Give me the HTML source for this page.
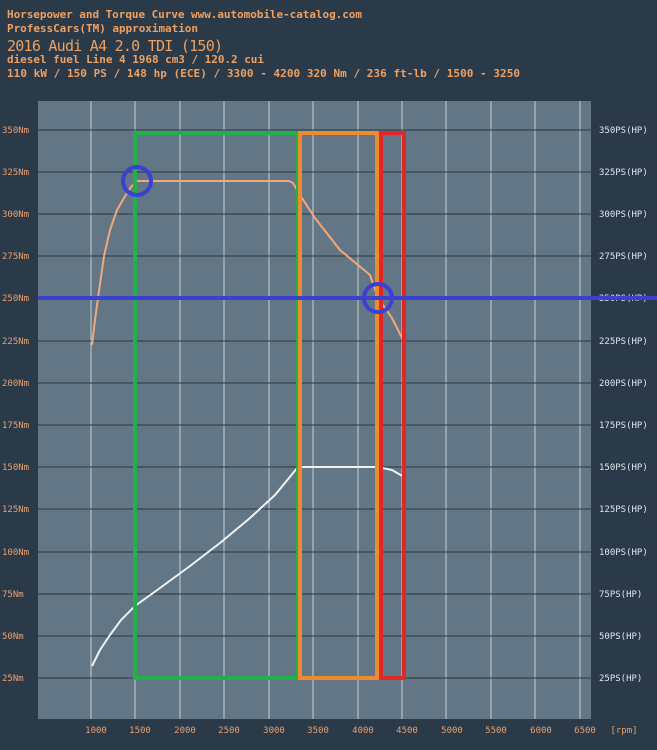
<!DOCTYPE html>
<html><head><meta charset="utf-8"><style>
body{margin:0;background:#2b3a49;width:657px;height:750px;overflow:hidden}
svg{display:block}
text{font-family:"DejaVu Sans Mono","Liberation Mono",monospace}
</style></head><body>
<svg width="657" height="750" viewBox="0 0 657 750">
<rect width="657" height="750" fill="#2b3a49"/>
<g fill="#f0a060" font-size="11" font-weight="bold">
<text x="7" y="18" textLength="355">Horsepower and Torque Curve www.automobile-catalog.com</text>
<text x="7" y="32" textLength="191">ProfessCars(TM) approximation</text>
<text x="7" y="77" textLength="513">110 kW / 150 PS / 148 hp  (ECE) / 3300 - 4200 320 Nm / 236 ft-lb / 1500 - 3250</text>
<text x="7" y="63" textLength="257">diesel fuel Line 4 1968 cm3 / 120.2 cui</text>
</g>
<text x="7" y="51" fill="#f0a060" font-size="15" textLength="216">2016 Audi A4 2.0 TDI (150)</text>
<rect x="38" y="101" width="553" height="618" fill="#627686"/>
<g stroke="#dfe6ec" stroke-width="1" opacity="0.8">
<line x1="91" y1="101" x2="91" y2="719"/><line x1="135" y1="101" x2="135" y2="719"/><line x1="180" y1="101" x2="180" y2="719"/><line x1="224" y1="101" x2="224" y2="719"/><line x1="269" y1="101" x2="269" y2="719"/><line x1="313" y1="101" x2="313" y2="719"/><line x1="358" y1="101" x2="358" y2="719"/><line x1="402" y1="101" x2="402" y2="719"/><line x1="446" y1="101" x2="446" y2="719"/><line x1="491" y1="101" x2="491" y2="719"/><line x1="535" y1="101" x2="535" y2="719"/><line x1="580" y1="101" x2="580" y2="719"/>
</g>
<g stroke="#2a3640" stroke-width="1">
<line x1="38" x2="591" y1="130" y2="130"/><line x1="38" x2="591" y1="172" y2="172"/><line x1="38" x2="591" y1="214" y2="214"/><line x1="38" x2="591" y1="256" y2="256"/><line x1="38" x2="591" y1="298" y2="298"/><line x1="38" x2="591" y1="341" y2="341"/><line x1="38" x2="591" y1="383" y2="383"/><line x1="38" x2="591" y1="425" y2="425"/><line x1="38" x2="591" y1="467" y2="467"/><line x1="38" x2="591" y1="509" y2="509"/><line x1="38" x2="591" y1="552" y2="552"/><line x1="38" x2="591" y1="594" y2="594"/><line x1="38" x2="591" y1="636" y2="636"/><line x1="38" x2="591" y1="678" y2="678"/>
</g>
<g fill="#e8a070" font-size="9">
<text x="2" y="133">350Nm</text><text x="2" y="175">325Nm</text><text x="2" y="217">300Nm</text><text x="2" y="259">275Nm</text><text x="2" y="301">250Nm</text><text x="2" y="344">225Nm</text><text x="2" y="386">200Nm</text><text x="2" y="428">175Nm</text><text x="2" y="470">150Nm</text><text x="2" y="512">125Nm</text><text x="2" y="555">100Nm</text><text x="2" y="597">75Nm</text><text x="2" y="639">50Nm</text><text x="2" y="681">25Nm</text>
</g>
<g fill="#dfe6ec" font-size="9">
<text x="599" y="133">350PS(HP)</text><text x="599" y="175">325PS(HP)</text><text x="599" y="217">300PS(HP)</text><text x="599" y="259">275PS(HP)</text><text x="599" y="301">250PS(HP)</text><text x="599" y="344">225PS(HP)</text><text x="599" y="386">200PS(HP)</text><text x="599" y="428">175PS(HP)</text><text x="599" y="470">150PS(HP)</text><text x="599" y="512">125PS(HP)</text><text x="599" y="555">100PS(HP)</text><text x="599" y="597">75PS(HP)</text><text x="599" y="639">50PS(HP)</text><text x="599" y="681">25PS(HP)</text>
</g>
<g fill="#e8a070" font-size="9" text-anchor="middle">
<text x="96" y="733">1000</text><text x="140" y="733">1500</text><text x="185" y="733">2000</text><text x="229" y="733">2500</text><text x="274" y="733">3000</text><text x="318" y="733">3500</text><text x="363" y="733">4000</text><text x="407" y="733">4500</text><text x="452" y="733">5000</text><text x="496" y="733">5500</text><text x="541" y="733">6000</text><text x="585" y="733">6500</text><text x="624" y="733">[rpm]</text>
</g>
<polyline fill="none" stroke="#f0a878" stroke-width="2" points="92,345 95,320 98,298 104,256 110,230 117,210 124,198 131,187 137,181 289,181 293,183 300,195 315,218 340,250 370,275 378,298 392,318 404,342"/>
<polyline fill="none" stroke="#f2f2f2" stroke-width="2" points="92,666 100,650 110,635 121,620 135,606 160,588 190,566 220,543 250,518 275,495 298,467 378,467 392,470 404,477"/>
<rect x="135" y="133" width="163" height="545" fill="none" stroke="#22b04a" stroke-width="4"/>
<rect x="300" y="133" width="77" height="545" fill="none" stroke="#f08a30" stroke-width="4"/>
<rect x="381" y="133" width="23" height="545" fill="none" stroke="#e02828" stroke-width="4"/>
<line x1="38" y1="298" x2="657" y2="298" stroke="#3a40d0" stroke-width="4"/>
<circle cx="137" cy="181" r="14" fill="none" stroke="#3a40d0" stroke-width="4"/>
<circle cx="378" cy="298" r="14" fill="none" stroke="#3a40d0" stroke-width="4"/>
</svg>
</body></html>
